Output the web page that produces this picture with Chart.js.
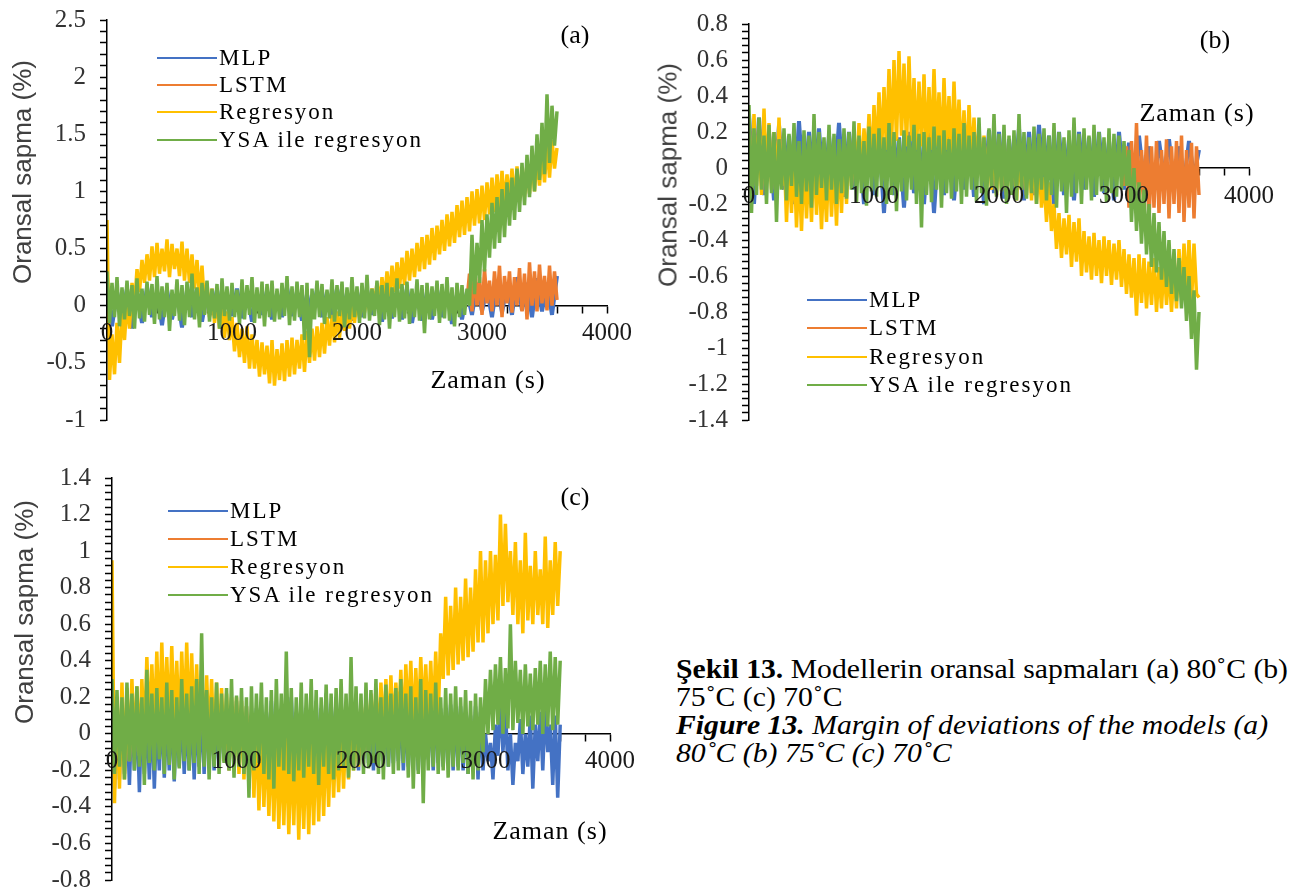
<!DOCTYPE html>
<html>
<head>
<meta charset="utf-8">
<script src="https://cdn.jsdelivr.net/npm/chart.js@4.4.1/dist/chart.umd.min.js"></script>
<style>
  html, body { margin: 0; padding: 0; background: #fff; overflow: hidden; }
  #page { position: relative; width: 1293px; height: 893px; overflow: hidden; }
  #page canvas { position: absolute; }
  .tag { position: absolute; font-family: "Liberation Serif"; font-size: 26px; color: #000; white-space: nowrap; transform: translate(-50%, -50%); }
  .xtitle { position: absolute; font-family: "Liberation Serif"; font-size: 26px; letter-spacing: 1px; color: #000; white-space: nowrap; transform: translate(-50%, -50%); }
  .ytitle { position: absolute; font-family: "Liberation Sans"; font-size: 26px; color: #404040; white-space: nowrap; transform: translate(-50%, -50%) rotate(-90deg); }
  .legend { position: absolute; font-family: "Liberation Serif"; font-size: 23px; letter-spacing: 2px; color: #000; }
  .legend .row { display: flex; align-items: center; white-space: nowrap; }
  .legend .sw { display: inline-block; width: 60px; height: 2px; margin-right: 2px; }
  #caption { position: absolute; left: 676px; top: 655px; font-family: "Liberation Serif"; font-size: 27px; line-height: 28px; color: #000; white-space: nowrap; transform: scaleX(1.1); transform-origin: left top; }
</style>
</head>
<body>
<div id="page">
  <canvas id="chartA" width="650" height="460" style="left:7px;top:-10px"></canvas>
  <canvas id="chartB" width="650" height="456" style="left:649px;top:-6px"></canvas>
  <canvas id="chartC" width="648" height="462" style="left:12px;top:448px"></canvas>

  <div class="ytitle" style="left:22px;top:172px">Oransal sapma (%)</div>
  <div class="ytitle" style="left:668px;top:175px">Oransal sapma (%)</div>
  <div class="ytitle" style="left:24px;top:612px">Oransal sapma (%)</div>

  <div class="xtitle" style="left:488px;top:380px">Zaman (s)</div>
  <div class="xtitle" style="left:1197px;top:113px">Zaman (s)</div>
  <div class="xtitle" style="left:550px;top:831px">Zaman (s)</div>

  <div class="tag" style="left:575px;top:35px">(a)</div>
  <div class="tag" style="left:1215px;top:40px">(b)</div>
  <div class="tag" style="left:575px;top:497px">(c)</div>

  <div class="legend" id="legA" style="left:157px;top:44px"></div>
  <div class="legend" id="legB" style="left:807px;top:286px"></div>
  <div class="legend" id="legC" style="left:168px;top:497px"></div>

  <div id="caption">
    <b>Şekil 13.</b> Modellerin oransal sapmaları (a) 80˚C (b)<br>
    75˚C (c) 70˚C<br>
    <b><i>Figure 13.</i></b> <i>Margin of deviations of the models (a)</i><br>
    <i>80˚C (b) 75˚C (c) 70˚C</i>
  </div>
</div>

<script>
// series names and colours (Excel palette)
const seriesNames = ['MLP', 'LSTM', 'Regresyon', 'YSA ile regresyon'];
const seriesColors = ['#4472C4', '#ED7D31', '#FFC000', '#70AD47'];

// time axes, seconds
const times20 = [
  0, 20, 40, 60, 80, 100, 120, 140, 160, 180,
  200, 220, 240, 260, 280, 300, 320, 340, 360, 380,
  400, 420, 440, 460, 480, 500, 520, 540, 560, 580,
  600, 620, 640, 660, 680, 700, 720, 740, 760, 780,
  800, 820, 840, 860, 880, 900, 920, 940, 960, 980,
  1000, 1020, 1040, 1060, 1080, 1100, 1120, 1140, 1160, 1180,
  1200, 1220, 1240, 1260, 1280, 1300, 1320, 1340, 1360, 1380,
  1400, 1420, 1440, 1460, 1480, 1500, 1520, 1540, 1560, 1580,
  1600, 1620, 1640, 1660, 1680, 1700, 1720, 1740, 1760, 1780,
  1800, 1820, 1840, 1860, 1880, 1900, 1920, 1940, 1960, 1980,
  2000, 2020, 2040, 2060, 2080, 2100, 2120, 2140, 2160, 2180,
  2200, 2220, 2240, 2260, 2280, 2300, 2320, 2340, 2360, 2380,
  2400, 2420, 2440, 2460, 2480, 2500, 2520, 2540, 2560, 2580,
  2600, 2620, 2640, 2660, 2680, 2700, 2720, 2740, 2760, 2780,
  2800, 2820, 2840, 2860, 2880, 2900, 2920, 2940, 2960, 2980,
  3000, 3020, 3040, 3060, 3080, 3100, 3120, 3140, 3160, 3180,
  3200, 3220, 3240, 3260, 3280, 3300, 3320, 3340, 3360, 3380,
  3400, 3420, 3440, 3460, 3480, 3500, 3520, 3540, 3560, 3580,
  3600
];
const times40 = [
  0, 40, 80, 120, 160, 200, 240, 280, 320, 360,
  400, 440, 480, 520, 560, 600, 640, 680, 720, 760,
  800, 840, 880, 920, 960, 1000, 1040, 1080, 1120, 1160,
  1200, 1240, 1280, 1320, 1360, 1400, 1440, 1480, 1520, 1560,
  1600, 1640, 1680, 1720, 1760, 1800, 1840, 1880, 1920, 1960,
  2000, 2040, 2080, 2120, 2160, 2200, 2240, 2280, 2320, 2360,
  2400, 2440, 2480, 2520, 2560, 2600, 2640, 2680, 2720, 2760,
  2800, 2840, 2880, 2920, 2960, 3000, 3040, 3080, 3120, 3160,
  3200, 3240, 3280, 3320, 3360, 3400, 3440, 3480, 3520, 3560,
  3600
];
const timesLstmA = [
  2880, 2900, 2920, 2940, 2960, 2980, 3000, 3020, 3040, 3060,
  3080, 3100, 3120, 3140, 3160, 3180, 3200, 3220, 3240, 3260,
  3280, 3300, 3320, 3340, 3360, 3380, 3400, 3420, 3440, 3460,
  3480, 3500, 3520, 3540, 3560, 3580, 3600
];
const timesLstmB = [
  3000, 3020, 3040, 3060, 3080, 3100, 3120, 3140, 3160, 3180,
  3200, 3220, 3240, 3260, 3280, 3300, 3320, 3340, 3360, 3380,
  3400, 3420, 3440, 3460, 3480, 3500, 3520, 3540, 3560, 3580,
  3600
];
const timesLstmC = [];

// (a) 80 C
const mlpA = [
  0.2, -0.18, 0.12, -0.12, 0.15, -0.2, 0.1, -0.15, 0.16, -0.1,
  0.12, -0.17, 0.14, -0.12, 0.1, -0.19, 0.13, -0.1, 0.15, -0.14,
  0.11, -0.08, 0.14, -0.12, 0.1, -0.09, 0.15, -0.11, 0.12, -0.14,
  0.1, -0.08, 0.13, -0.12, 0.11, -0.1, 0.16, -0.09, 0.12, -0.13,
  0.1, -0.11, 0.14, -0.1, 0.12, -0.12, 0.15, -0.09, 0.11, -0.13,
  0.12, -0.1, 0.14, -0.08, 0.1, -0.14, 0.13, -0.11, 0.12, -0.12,
  0.15, -0.15, 0.11, -0.13, 0.12, -0.12, 0.14, -0.1, 0.12, -0.16,
  0.1, -0.12, 0.12, -0.08, 0.2, -0.05, 0.15, -0.1, 0.22, -0.06,
  0.18, -0.08, 0.25, -0.04, 0.2, -0.1, 0.24, -0.05, 0.2, -0.08,
  0.26
];
const lstmA = [
  0.05, 0.28, -0.05, 0.3, 0.0, 0.25, -0.08, 0.32, 0.02, 0.22,
  -0.05, 0.3, 0.0, 0.35, -0.1, 0.26, 0.02, 0.3, -0.06, 0.25,
  0.0, 0.33, -0.05, 0.28, -0.12, 0.38, 0.0, 0.3, -0.05, 0.36,
  0.02, 0.26, -0.04, 0.35, 0.0, 0.3, 0.05
];
const regA = [
  0.75, -0.65, -0.25, -0.6, -0.15, -0.5, -0.05, -0.3, 0.05, -0.2,
  0.2, 0.0, 0.32, 0.12, 0.4, 0.2, 0.45, 0.22, 0.52, 0.25,
  0.55, 0.28, 0.5, 0.3, 0.58, 0.25, 0.54, 0.32, 0.5, 0.26,
  0.56, 0.22, 0.5, 0.2, 0.45, 0.15, 0.4, 0.08, 0.35, 0.0,
  0.2, -0.1, 0.15, -0.15, 0.05, -0.2, 0.0, -0.28, -0.05, -0.3,
  -0.1, -0.4, -0.15, -0.45, -0.2, -0.5, -0.18, -0.55, -0.25, -0.55,
  -0.3, -0.62, -0.32, -0.6, -0.35, -0.68, -0.3, -0.7, -0.38, -0.65,
  -0.33, -0.66, -0.3, -0.62, -0.28, -0.6, -0.3, -0.55, -0.25, -0.58,
  -0.22, -0.5, -0.2, -0.48, -0.18, -0.45, -0.15, -0.42, -0.1, -0.35,
  -0.08, -0.32, -0.05, -0.28, -0.02, -0.22, 0.0, -0.2, 0.02, -0.15,
  0.05, -0.1, 0.08, -0.06, 0.12, -0.04, 0.15, 0.0, 0.2, 0.02,
  0.25, 0.05, 0.3, 0.08, 0.35, 0.12, 0.38, 0.15, 0.42, 0.18,
  0.48, 0.22, 0.5, 0.25, 0.55, 0.3, 0.6, 0.32, 0.62, 0.36,
  0.68, 0.4, 0.7, 0.45, 0.75, 0.48, 0.8, 0.52, 0.82, 0.55,
  0.88, 0.6, 0.92, 0.62, 0.95, 0.65, 1.0, 0.7, 1.02, 0.72,
  1.05, 0.75, 1.08, 0.8, 1.12, 0.82, 1.15, 0.85, 1.18, 0.88,
  1.15, 0.9, 1.2, 0.88, 1.22, 0.92, 1.18, 0.95, 1.25, 0.98,
  1.28, 1.0, 1.3, 1.05, 1.35, 1.08, 1.42, 1.12, 1.45, 1.2,
  1.38
];
const ysaA = [
  0.3, -0.15, 0.2, -0.1, 0.25, -0.18, 0.16, -0.12, 0.22, -0.09,
  0.18, -0.2, 0.24, -0.11, 0.15, -0.14, 0.21, -0.08, 0.19, -0.16,
  0.26, -0.12, 0.17, -0.1, 0.2, -0.22, 0.14, -0.09, 0.23, -0.13,
  0.18, -0.17, 0.21, -0.1, 0.28, -0.12, 0.16, -0.19, 0.2, -0.08,
  0.22, -0.14, 0.15, -0.11, 0.19, -0.2, 0.24, -0.09, 0.17, -0.13,
  0.2, -0.1, 0.14, -0.16, 0.23, -0.12, 0.18, -0.08, 0.25, -0.15,
  0.16, -0.11, 0.21, -0.18, 0.19, -0.1, 0.22, -0.14, 0.15, -0.12,
  0.2, -0.09, 0.26, -0.17, 0.17, -0.13, 0.21, -0.1, 0.18, -0.3,
  0.2, -0.45, 0.15, -0.12, 0.22, -0.1, 0.19, -0.16, 0.14, -0.11,
  0.23, -0.14, 0.18, -0.09, 0.21, -0.19, 0.16, -0.12, 0.25, -0.1,
  0.17, -0.15, 0.2, -0.11, 0.27, -0.13, 0.15, -0.09, 0.22, -0.17,
  0.18, -0.12, 0.2, -0.2, 0.16, -0.1, 0.24, -0.14, 0.19, -0.11,
  0.21, -0.16, 0.15, -0.1, 0.23, -0.13, 0.18, -0.24, 0.2, -0.12,
  0.17, -0.09, 0.22, -0.15, 0.19, -0.11, 0.25, -0.13, 0.16, -0.18,
  0.2, -0.1, 0.18, -0.08, 0.15, 0.0, 0.62, 0.1, 0.55, 0.2,
  0.75, 0.3, 0.8, 0.42, 0.9, 0.5, 0.95, 0.55, 1.02, 0.6,
  1.08, 0.7, 1.12, 0.75, 1.2, 0.82, 1.25, 0.88, 1.32, 0.95,
  1.4, 1.0, 1.5, 1.1, 1.6, 1.15, 1.85, 1.25, 1.75, 1.4,
  1.7
];

// (b) 75 C
const mlpB = [
  0.3, -0.2, 0.28, -0.15, 0.2, -0.18, 0.24, -0.12, 0.18, -0.2,
  0.26, -0.15, 0.2, -0.1, 0.22, -0.18, 0.18, -0.14, 0.25, -0.16,
  0.2, -0.12, 0.16, -0.2, 0.22, -0.15, 0.18, -0.25, 0.2, -0.15,
  0.17, -0.22, 0.2, -0.14, 0.15, -0.2, 0.2, -0.25, 0.18, -0.15,
  0.22, -0.18, 0.16, -0.12, 0.2, -0.16, 0.18, -0.2, 0.21, -0.14,
  0.2, -0.17, 0.16, -0.12, 0.22, -0.18, 0.2, -0.15, 0.24, -0.13,
  0.18, -0.2, 0.2, -0.15, 0.16, -0.18, 0.2, -0.12, 0.17, -0.16,
  0.2, -0.14, 0.15, -0.18, 0.2, -0.12, 0.14, -0.1, 0.18, -0.08,
  0.12, -0.1, 0.15, -0.05, 0.16, -0.1, 0.12, -0.08, 0.15, -0.05,
  0.1
];
const lstmB = [
  -0.1, 0.12, -0.22, 0.15, -0.18, 0.25, -0.25, 0.1, -0.2, 0.18,
  -0.3, 0.12, -0.22, 0.15, -0.25, 0.1, -0.2, 0.16, -0.28, 0.12,
  -0.2, 0.15, -0.25, 0.18, -0.3, 0.1, -0.22, 0.14, -0.28, 0.12,
  -0.15
];
const regB = [
  0.05, -0.12, 0.3, -0.1, 0.22, -0.15, 0.33, -0.08, 0.25, -0.12,
  0.2, -0.15, 0.28, -0.1, 0.12, -0.3, 0.05, -0.25, 0.08, -0.33,
  0.0, -0.35, 0.06, -0.28, 0.02, -0.3, 0.1, -0.26, 0.04, -0.34,
  0.0, -0.3, 0.08, -0.27, 0.05, -0.32, 0.1, -0.25, 0.12, -0.2,
  0.18, -0.1, 0.2, -0.05, 0.25, -0.08, 0.22, 0.0, 0.3, -0.02,
  0.35, 0.05, 0.42, 0.08, 0.45, 0.1, 0.55, 0.12, 0.6, 0.15,
  0.65, 0.18, 0.58, 0.12, 0.62, 0.15, 0.5, 0.1, 0.48, 0.12,
  0.52, 0.08, 0.45, 0.1, 0.55, 0.12, 0.42, 0.05, 0.5, 0.1,
  0.4, 0.06, 0.48, 0.08, 0.38, 0.04, 0.32, 0.0, 0.35, 0.02,
  0.28, 0.0, 0.22, -0.05, 0.18, -0.1, 0.15, -0.12, 0.2, -0.15,
  0.16, -0.12, 0.18, -0.15, 0.12, -0.1, 0.15, -0.18, 0.1, -0.12,
  0.14, -0.15, 0.12, -0.18, 0.08, -0.2, 0.05, -0.22, -0.05, -0.3,
  -0.08, -0.35, -0.2, -0.45, -0.25, -0.5, -0.28, -0.48, -0.26, -0.55,
  -0.3, -0.52, -0.28, -0.6, -0.35, -0.58, -0.38, -0.62, -0.36, -0.6,
  -0.4, -0.64, -0.38, -0.6, -0.4, -0.65, -0.42, -0.62, -0.4, -0.66,
  -0.45, -0.7, -0.48, -0.72, -0.5, -0.82, -0.48, -0.75, -0.5, -0.78,
  -0.52, -0.76, -0.5, -0.8, -0.55, -0.78, -0.52, -0.76, -0.55, -0.8,
  -0.55, -0.78, -0.45, -0.72, -0.42, -0.7, -0.4, -0.75, -0.42, -0.7,
  -0.72
];
const ysaB = [
  0.35, -0.25, 0.22, -0.15, 0.28, -0.12, 0.18, -0.2, 0.24, -0.14,
  0.2, -0.3, 0.16, -0.12, 0.22, -0.18, 0.19, -0.1, 0.25, -0.16,
  0.15, -0.2, 0.21, -0.13, 0.18, -0.22, 0.3, -0.15, 0.2, -0.11,
  0.17, -0.18, 0.24, -0.12, 0.19, -0.2, 0.16, -0.14, 0.22, -0.17,
  0.2, -0.12, 0.26, -0.19, 0.18, -0.14, 0.15, -0.21, 0.23, -0.13,
  0.19, -0.16, 0.22, -0.11, 0.17, -0.2, 0.25, -0.15, 0.2, -0.24,
  0.16, -0.13, 0.21, -0.18, 0.18, -0.12, 0.24, -0.2, 0.19, -0.33,
  0.2, -0.15, 0.17, -0.19, 0.23, -0.12, 0.18, -0.22, 0.21, -0.14,
  0.16, -0.17, 0.22, -0.13, 0.19, -0.2, 0.25, -0.16, 0.18, -0.12,
  0.2, -0.19, 0.28, -0.14, 0.17, -0.21, 0.22, -0.11, 0.3, -0.16,
  0.19, -0.13, 0.24, -0.2, 0.18, -0.15, 0.21, -0.18, 0.3, -0.12,
  0.2, -0.17, 0.17, -0.14, 0.23, -0.2, 0.19, -0.12, 0.22, -0.18,
  0.18, -0.15, 0.25, -0.22, 0.2, -0.13, 0.17, -0.25, 0.21, -0.16,
  0.28, -0.14, 0.19, -0.2, 0.22, -0.12, 0.18, -0.18, 0.24, -0.15,
  0.2, -0.13, 0.17, -0.19, 0.22, -0.14, 0.19, -0.16, 0.18, -0.12,
  0.15, -0.1, 0.1, -0.3, 0.0, -0.35, -0.08, -0.42, -0.12, -0.48,
  -0.2, -0.55, -0.25, -0.58, -0.3, -0.62, -0.35, -0.66, -0.4, -0.7,
  -0.45, -0.74, -0.5, -0.78, -0.55, -0.85, -0.6, -0.95, -0.68, -1.12,
  -0.8
];

// (c) 70 C
const mlpC = [
  0.2, -0.3, 0.15, -0.25, 0.18, -0.22, 0.12, -0.28, 0.16, -0.2,
  0.14, -0.32, 0.18, -0.22, 0.12, -0.25, 0.15, -0.3, 0.1, -0.2,
  0.16, -0.24, 0.12, -0.2, 0.18, -0.26, 0.14, -0.18, 0.15, -0.22,
  0.1, -0.2, 0.16, -0.25, 0.12, -0.18, 0.15, -0.22, 0.18, -0.16,
  0.14, -0.2, 0.12, -0.18, 0.16, -0.15, 0.1, -0.2, 0.15, -0.16,
  0.18, -0.14, 0.12, -0.2, 0.15, -0.16, 0.1, -0.18, 0.14, -0.15,
  0.16, -0.2, 0.12, -0.14, 0.18, -0.16, 0.14, -0.2, 0.12, -0.15,
  0.15, -0.18, 0.2, -0.14, 0.12, -0.2, 0.16, -0.15, 0.14, -0.18,
  0.12, -0.16, 0.18, -0.2, 0.14, -0.15, 0.22, -0.18, 0.15, -0.14,
  0.2, -0.16, 0.14, -0.2, 0.12, -0.15, 0.16, -0.18, 0.14, -0.2,
  0.15, -0.14, 0.18, -0.16, 0.12, -0.2, 0.16, -0.15, 0.2, -0.14,
  0.14, -0.18, 0.12, -0.16, 0.18, -0.15, 0.15, -0.2, 0.12, -0.18,
  0.16, -0.15, 0.14, -0.2, 0.2, -0.16, 0.12, -0.14, 0.15, -0.2,
  0.18, -0.16, 0.14, -0.18, 0.12, -0.15, 0.16, -0.2, 0.14, -0.18,
  0.15, -0.2, 0.12, -0.22, 0.1, -0.18, 0.15, -0.25, 0.12, -0.2,
  0.0, -0.15, -0.05, -0.25, 0.05, -0.12, 0.2, -0.1, 0.15, -0.2,
  0.0, -0.28, -0.05, -0.15, 0.08, -0.22, 0.0, -0.18, 0.1, -0.3,
  0.05, -0.15, 0.12, -0.2, 0.15, -0.1, 0.05, -0.28, 0.1, -0.35,
  0.05
];
const lstmC = [];
const regC = [
  0.95, -0.38, 0.2, -0.3, 0.28, -0.25, 0.25, -0.15, 0.3, -0.1,
  0.26, -0.12, 0.3, -0.05, 0.42, 0.0, 0.38, 0.02, 0.45, 0.0,
  0.5, 0.05, 0.42, 0.02, 0.48, 0.04, 0.4, 0.0, 0.45, 0.05,
  0.5, 0.02, 0.44, 0.0, 0.38, -0.05, 0.35, -0.08, 0.32, -0.05,
  0.3, -0.1, 0.28, -0.12, 0.25, -0.15, 0.22, -0.2, 0.2, -0.18,
  0.2, -0.22, 0.18, -0.25, 0.15, -0.3, 0.1, -0.35, 0.08, -0.42,
  0.05, -0.4, 0.0, -0.45, -0.02, -0.48, 0.0, -0.52, -0.05, -0.5,
  -0.02, -0.55, -0.05, -0.5, 0.0, -0.58, -0.05, -0.52, -0.03, -0.55,
  -0.05, -0.5, 0.0, -0.48, -0.02, -0.45, 0.02, -0.4, 0.05, -0.35,
  0.02, -0.32, 0.05, -0.3, 0.08, -0.25, 0.1, -0.2, 0.15, -0.18,
  0.18, -0.12, 0.2, -0.1, 0.22, -0.05, 0.25, -0.08, 0.28, -0.02,
  0.3, -0.05, 0.32, 0.0, 0.28, 0.02, 0.35, -0.02, 0.38, 0.05,
  0.4, 0.0, 0.36, 0.04, 0.42, 0.08, 0.38, 0.02, 0.4, 0.05,
  0.45, 0.08, 0.55, 0.3, 0.75, 0.32, 0.7, 0.35, 0.8, 0.38,
  0.75, 0.4, 0.85, 0.42, 0.8, 0.45, 0.9, 0.5, 1.0, 0.5,
  0.95, 0.55, 1.0, 0.6, 0.98, 0.62, 1.2, 0.7, 1.15, 0.72,
  1.0, 0.65, 1.05, 0.6, 0.95, 0.55, 1.1, 0.62, 0.92, 0.6,
  1.0, 0.65, 0.9, 0.6, 1.08, 0.58, 0.95, 0.65, 1.05, 0.7,
  1.0
];
const ysaC = [
  0.3, -0.22, 0.24, -0.18, 0.2, -0.25, 0.28, -0.15, 0.22, -0.2,
  0.26, -0.18, 0.2, -0.28, 0.35, -0.16, 0.22, -0.2, 0.25, -0.14,
  0.2, -0.22, 0.28, -0.17, 0.24, -0.25, 0.2, -0.19, 0.3, -0.15,
  0.22, -0.2, 0.26, -0.16, 0.3, -0.22, 0.55, -0.18, 0.24, -0.25,
  0.2, -0.18, 0.28, -0.22, 0.22, -0.16, 0.25, -0.2, 0.3, -0.24,
  0.21, -0.18, 0.25, -0.22, 0.2, -0.35, 0.26, -0.2, 0.22, -0.16,
  0.28, -0.22, 0.2, -0.25, 0.24, -0.3, 0.3, -0.18, 0.22, -0.2,
  0.45, -0.22, 0.25, -0.26, 0.2, -0.2, 0.28, -0.24, 0.22, -0.18,
  0.3, -0.22, 0.24, -0.28, 0.2, -0.18, 0.27, -0.22, 0.22, -0.25,
  0.25, -0.2, 0.3, -0.18, 0.22, -0.24, 0.42, -0.2, 0.26, -0.17,
  0.22, -0.22, 0.28, -0.19, 0.24, -0.16, 0.3, -0.22, 0.2, -0.25,
  0.27, -0.18, 0.22, -0.22, 0.25, -0.2, 0.3, -0.16, 0.22, -0.24,
  0.26, -0.3, 0.2, -0.22, 0.3, -0.38, 0.24, -0.2, 0.22, -0.18,
  0.28, -0.22, 0.2, -0.2, 0.25, -0.24, 0.22, -0.18, 0.26, -0.2,
  0.2, -0.16, 0.24, -0.22, 0.18, -0.25, 0.22, -0.2, 0.2, -0.1,
  0.3, 0.0, 0.35, 0.02, 0.38, 0.05, 0.42, 0.0, 0.36, 0.03,
  0.6, 0.02, 0.4, 0.06, 0.35, 0.0, 0.38, 0.04, 0.33, 0.02,
  0.36, 0.05, 0.4, 0.0, 0.38, 0.04, 0.45, 0.02, 0.42, 0.05,
  0.4
];

function toPoints(ts, vals) {
  return ts.map((t, i) => ({ x: t, y: vals[i] }));
}

function lineSet(idx, ts, vals) {
  return {
    label: seriesNames[idx],
    data: toPoints(ts, vals),
    borderColor: seriesColors[idx],
    backgroundColor: seriesColors[idx],
    borderWidth: ts.length < 100 && idx === 0 ? 4 : 3.5,
    borderJoinStyle: 'bevel',
    borderCapStyle: 'butt',
    pointRadius: 0,
    tension: 0,
    fill: false,
    order: 4 - idx   // later series drawn on top, like Excel
  };
}

function isMajor(v, major) {
  const r = v / major;
  return Math.abs(r - Math.round(r)) < 1e-6;
}

const tickFont = { family: "'Liberation Serif', serif", size: 25 };

function buildPanel(canvasId, yMin, yMax, yStep, yMajor, datasets) {
  return new Chart(document.getElementById(canvasId), {
    type: 'line',
    data: { datasets: datasets },
    options: {
      responsive: false,
      animation: false,
      layout: { padding: { left: 0, top: 30, right: 50, bottom: 30 } },
      plugins: { legend: { display: false }, tooltip: { enabled: false } },
      scales: {
        x: {
          type: 'linear', min: 0, max: 4000, position: { y: 0 },
          ticks: { display: false, stepSize: 200, autoSkip: false, maxTicksLimit: 100 },
          grid: { display: true, drawOnChartArea: false, drawTicks: true, tickLength: 7,
                  color: '#000', tickColor: '#000', tickWidth: 1.5 },
          border: { display: true, color: '#000', width: 1.5 }
        },
        x2: {
          type: 'linear', axis: 'x', min: 0, max: 4000, position: { y: 0 },
          ticks: { z: 1, stepSize: 1000, padding: 13, font: tickFont, color: '#1a1a1a', maxRotation: 0,
                   autoSkip: false, callback: v => String(v) },
          grid: { display: false, drawTicks: false },
          border: { display: false }
        },
        y: {
          type: 'linear', position: 'left', min: yMin, max: yMax,
          afterFit: s => { s.width = 100; },
          ticks: { z: 1, stepSize: yStep, autoSkip: false, maxTicksLimit: 1000, padding: 14, font: tickFont,
                   color: '#333', callback: v => isMajor(v, yMajor) ? String(Math.round(v * 10) / 10) : '' },
          grid: { display: true, drawOnChartArea: false, drawTicks: true, tickLength: 7,
                  color: '#000', tickColor: '#000', tickWidth: 1.5 },
          border: { display: true, color: '#000', width: 1.5, z: 1 }
        }
      }
    }
  });
}

const chartA = buildPanel('chartA', -1, 2.5, 0.1, 0.5, [
  lineSet(0, times40, mlpA),
  lineSet(1, timesLstmA, lstmA),
  lineSet(2, times20, regA),
  lineSet(3, times20, ysaA)
]);

const chartB = buildPanel('chartB', -1.4, 0.8, 0.04, 0.2, [
  lineSet(0, times40, mlpB),
  lineSet(1, timesLstmB, lstmB),
  lineSet(2, times20, regB),
  lineSet(3, times20, ysaB)
]);

const chartC = buildPanel('chartC', -0.8, 1.4, 0.04, 0.2, [
  lineSet(0, times20, mlpC),
  lineSet(1, timesLstmC, lstmC),
  lineSet(2, times20, regC),
  lineSet(3, times20, ysaC)
]);

// legends
function buildLegend(id, rowH) {
  const box = document.getElementById(id);
  seriesNames.forEach((name, i) => {
    const row = document.createElement('div');
    row.className = 'row';
    row.style.height = rowH + 'px';
    const sw = document.createElement('span');
    sw.className = 'sw';
    sw.style.background = seriesColors[i];
    row.appendChild(sw);
    row.appendChild(document.createTextNode(name));
    box.appendChild(row);
  });
}
buildLegend('legA', 27.3);
buildLegend('legB', 28.3);
buildLegend('legC', 28);
</script>
</body>
</html>
